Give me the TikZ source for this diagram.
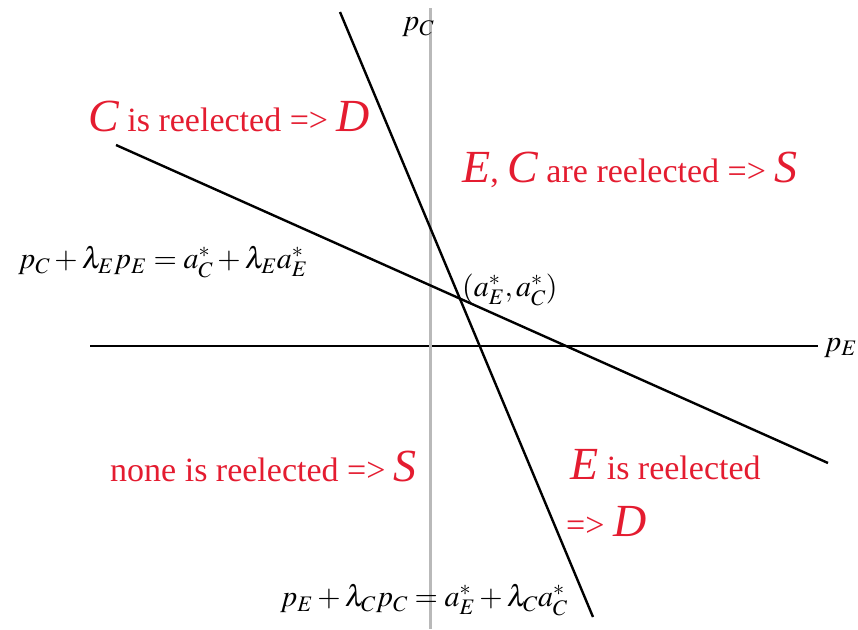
\documentclass[tikz,border=0pt]{standalone}
\usepackage{mathptmx}
\usepackage{fontspec}
\setmainfont{Liberation Serif}
\usetikzlibrary{positioning}
\definecolor{regred}{RGB}{228,28,48}
\newcommand{\bigit}[1]{{\fontsize{46}{48}\selectfont\itshape #1}}
\tikzset{
  region/.style={text=regred, font=\fontsize{34}{38}\selectfont, inner sep=0pt, anchor=west},
  eqn/.style={font=\fontsize{30}{32}\selectfont, inner sep=0pt, anchor=west},
  bound/.style={line width=2.4pt, black},
  axis/.style={line width=1.6pt}
}

\begin{document}
\begin{tikzpicture}[x=1pt, y=-1pt]
\useasboundingbox (0,0) rectangle (858,629);
% axes
\coordinate (xl) at (90,346);
\coordinate (xr) at (818,346);
\coordinate (yt) at (430,8);
\coordinate (yb) at (430,629);
\draw[axis] (xl) -- (xr);
\draw[line width=3pt, gray!55] (yt) -- (yb);
\node[eqn] (pe) at (824,348) {$p_E$};
\node[eqn] (pc) at (402,27) {$p_C$};
% the two boundary lines
\coordinate (st) at (340,12);
\coordinate (sb) at (593,617);
\coordinate (hl) at (116,145);
\coordinate (hr) at (828,463);
\draw[bound] (st) -- (sb);
\draw[bound] (hl) -- (hr);
% regions
\node[region] (rc) at (88,116) {\bigit{C} is reelected => \bigit{D}};
\node[region] (rec) at (462,170) {\bigit{E}, \bigit{C} are reelected => \bigit{S}};
\node[region] (rn) at (110,466) {none is reelected => \bigit{S}};
\node[region] (re) at (570,465) {\bigit{E} is reelected};
\node[region] (red) at (566,521) {=> \bigit{D}};
% equations
\node[eqn] (eqc) at (18,262) {$p_C+\lambda_E p_E=a^*_C+\lambda_E a^*_E$};
\node[eqn] (eqe) at (280,600) {$p_E+\lambda_C p_C=a^*_E+\lambda_C a^*_C$};
\node[eqn] (pt) at (462,290) {$(a^*_E,a^*_C)$};
\end{tikzpicture}
\end{document}
